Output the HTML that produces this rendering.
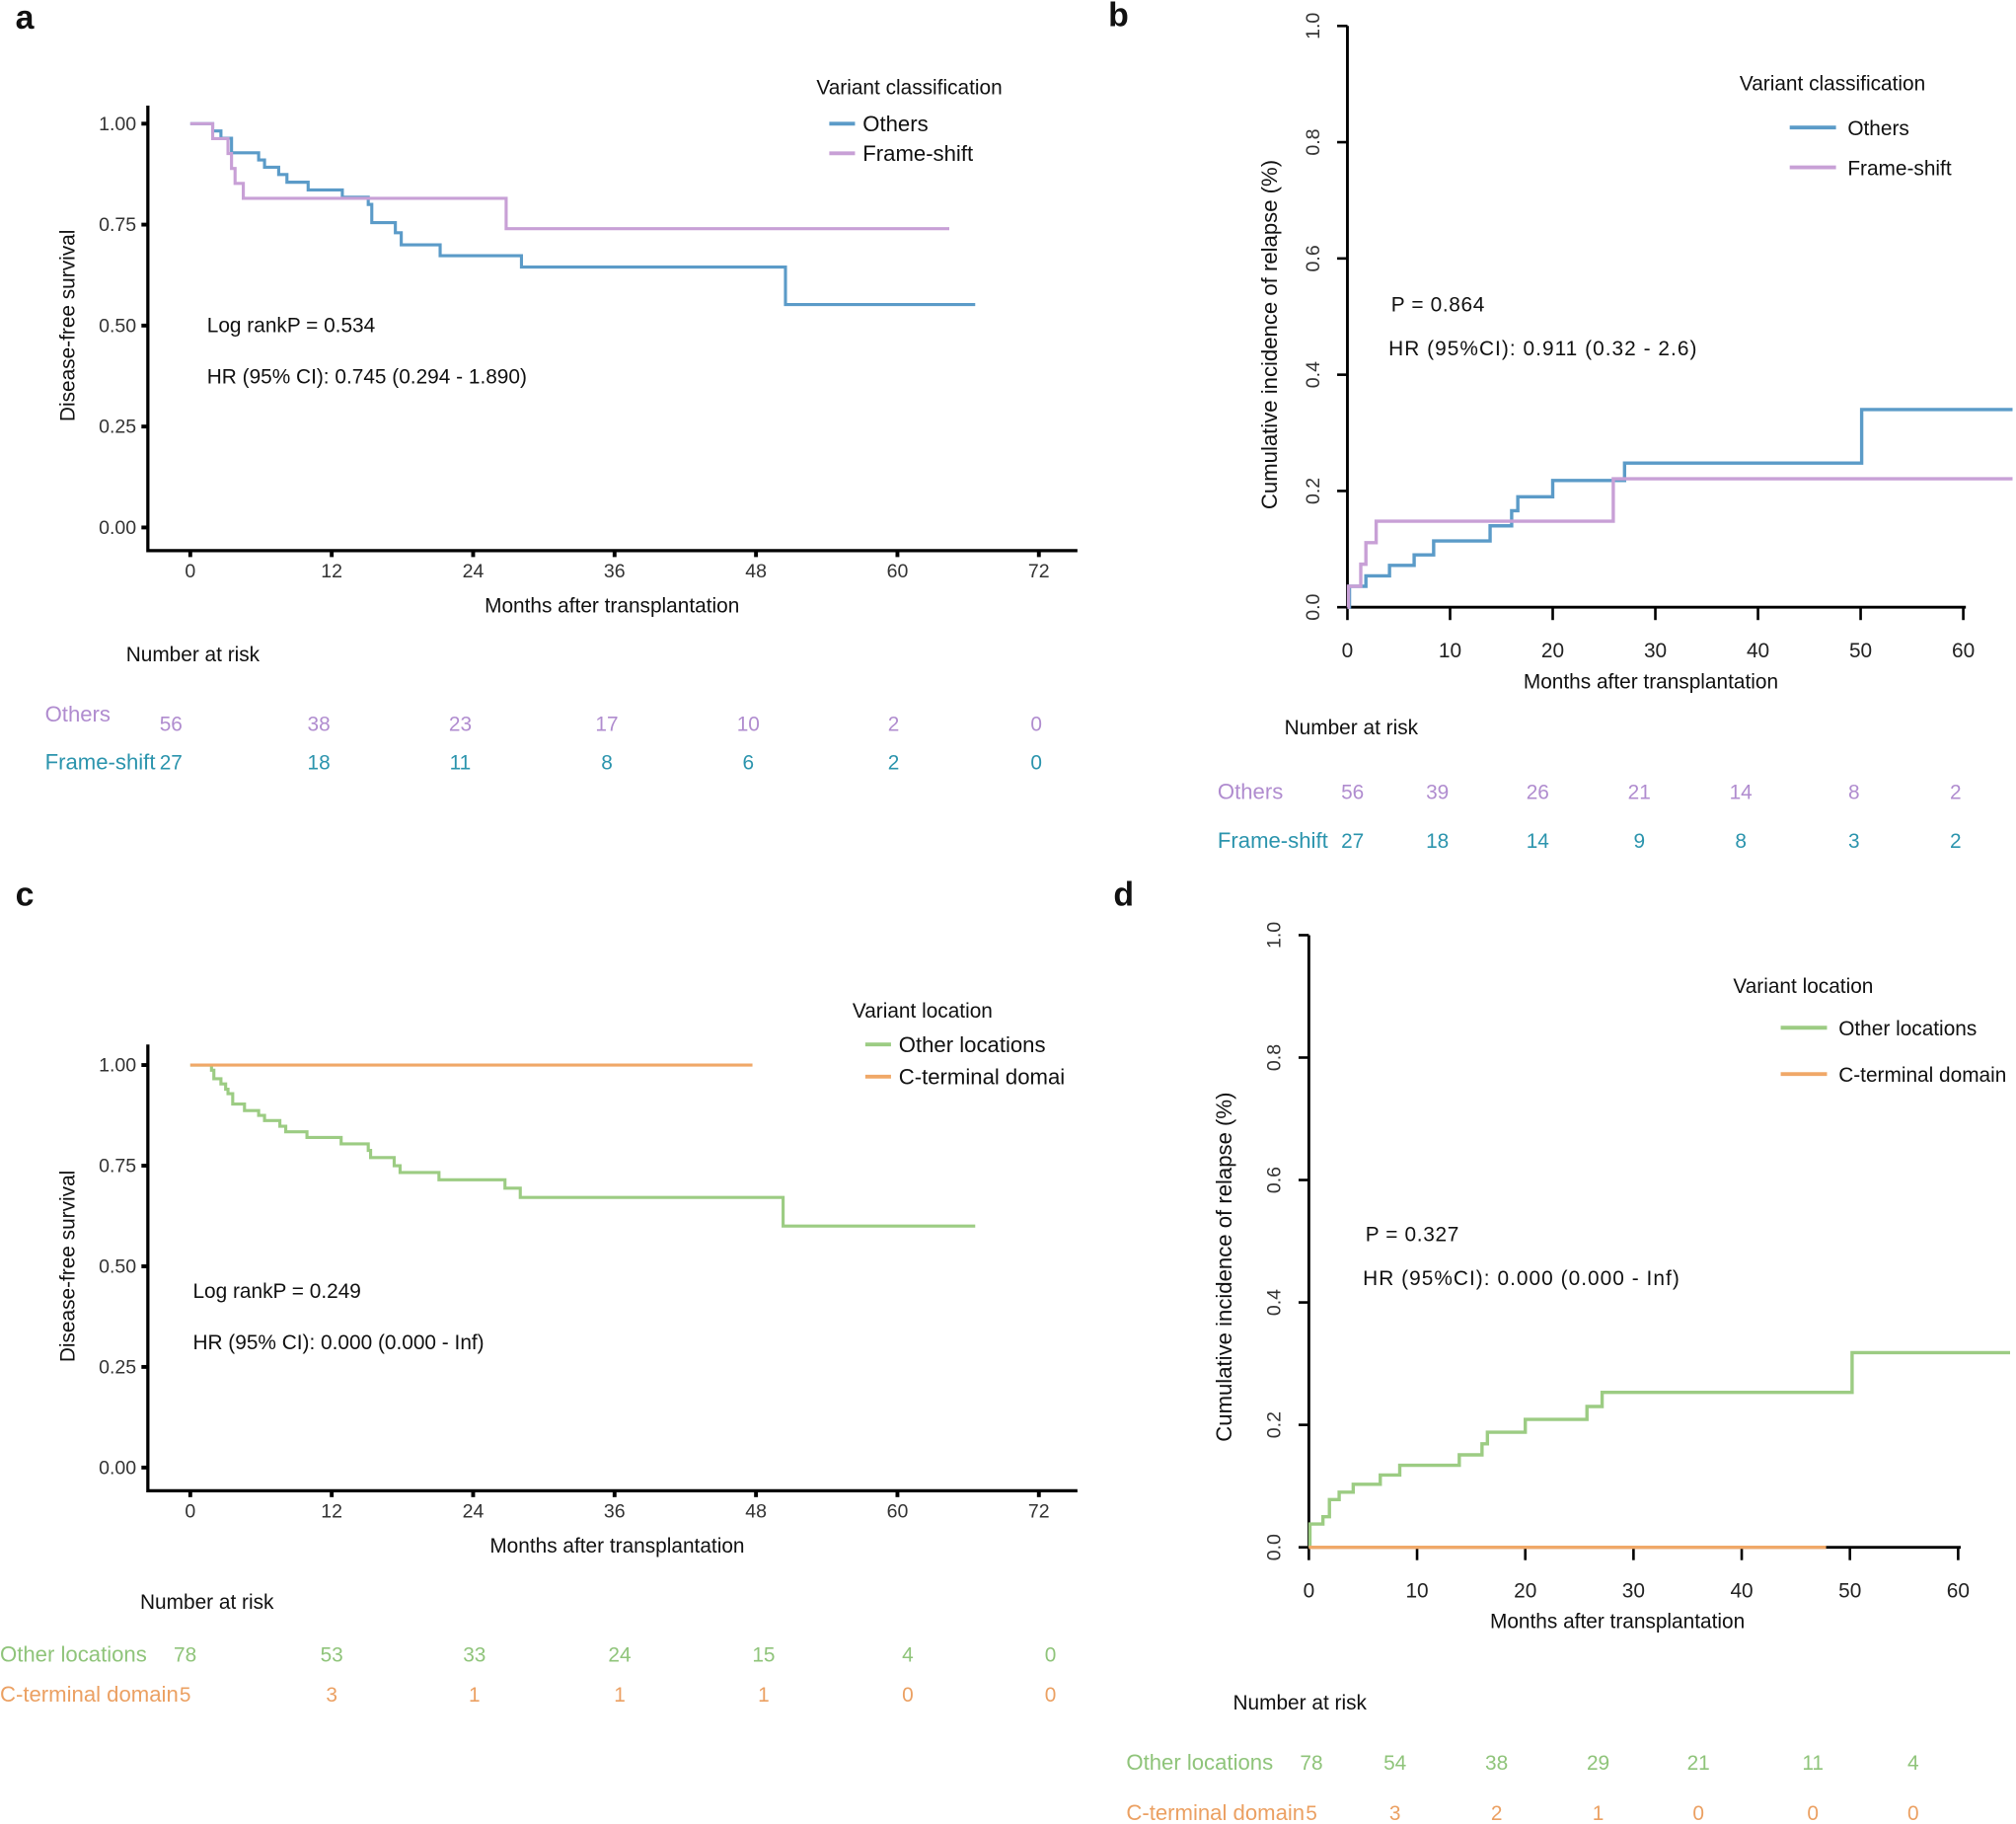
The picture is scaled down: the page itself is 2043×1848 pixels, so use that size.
<!DOCTYPE html>
<html><head><meta charset="utf-8"><style>
html,body{margin:0;padding:0;background:#fff}
svg{display:block}
text{font-family:"Liberation Sans",Arial,sans-serif}
</style></head><body>
<svg id="fig" width="2043" height="1848" viewBox="0 0 1568 1418" xmlns="http://www.w3.org/2000/svg"></svg>
<script>
// ---- data ----
const aOthersT=[0,1.9,2.6,3.5,5.8,6.3,7.5,8.2,10,12.9,15.1,15.4,17.4,17.9,21.2,28.1,50.5];
const aOthersS=[1,0.982,0.964,0.928,0.91,0.892,0.874,0.855,0.836,0.818,0.80,0.755,0.73,0.70,0.673,0.645,0.552];
const aOthersEnd=66.6;
const aFsT=[0,1.9,3.2,3.5,3.8,4.5,26.8];
const aFsS=[1,0.963,0.926,0.889,0.852,0.815,0.74];
const aFsEnd=64.4;
const bOthersT=[0,0.2,1.8,4.1,6.5,8.4,13.9,16,16.6,20,27,50.1];
const bOthersV=[0,0.036,0.054,0.072,0.09,0.114,0.14,0.166,0.19,0.218,0.248,0.34];
const bFsT=[0,0.1,1.3,1.8,2.8,25.9];
const bFsV=[0,0.036,0.074,0.111,0.148,0.221];
const bEnd=64.8;
const cOtherT=[0,1.8,2.0,2.6,3.0,3.2,3.6,4.6,5.8,6.3,7.6,8.1,9.9,12.8,15.1,15.3,17.3,17.8,21.1,26.7,28,50.3];
const cOtherS=[1,0.987,0.966,0.953,0.94,0.929,0.903,0.887,0.875,0.862,0.848,0.834,0.82,0.804,0.788,0.77,0.75,0.733,0.715,0.694,0.671,0.6];
const cOtherEnd=66.6;
const cCtT=[0];const cCtS=[1];const cCtEnd=47.7;
const dOtherT=[0,0.1,1.3,1.9,2.8,4.1,6.6,8.4,13.9,16,16.5,20,25.7,27.1,50.2];
const dOtherV=[0,0.038,0.05,0.078,0.09,0.103,0.118,0.134,0.151,0.169,0.188,0.209,0.23,0.253,0.318];
const dOtherEnd=64.8;
const dCtT=[0];const dCtV=[0];const dCtEnd=47.8;
const kmXTicks=[0,12,24,36,48,60,72];
const kmYTicks=[0,0.25,0.5,0.75,1];
const kmYLabels=["0.00","0.25","0.50","0.75","1.00"];
const ciXTicks=[0,10,20,30,40,50,60];
const ciYTicks=[0,0.2,0.4,0.6,0.8,1];
const ciYLabels=["0.0","0.2","0.4","0.6","0.8","1.0"];
const aRiskOthers=[56,38,23,17,10,2,0];
const aRiskFs=[27,18,11,8,6,2,0];
const bRiskOthers=[56,39,26,21,14,8,2];
const bRiskFs=[27,18,14,9,8,3,2];
const cRiskOther=[78,53,33,24,15,4,0];
const cRiskCt=[5,3,1,1,1,0,0];
const dRiskOther=[78,54,38,29,21,11,4];
const dRiskCt=[5,3,2,1,0,0,0];

const BLUE="#5b9bc8",PURPLE="#c8a0d6",GREEN="#9ccc83",ORANGE="#f0a868";
const RPURPLE="#b08ccf",RTEAL="#2b94ad",RGREEN="#8fc47a",RORANGE="#eba062";
const svg=document.getElementById('fig');
const NS="http://www.w3.org/2000/svg";
function mk(tag,attrs,parent){const e=document.createElementNS(NS,tag);for(const k in attrs)e.setAttribute(k,attrs[k]);(parent||svg).appendChild(e);return e;}
function txt(s,x,y,size,opt,parent){opt=opt||{};const e=mk('text',{x:x,y:y,'font-size':size,'text-anchor':opt.anchor||'start'},parent);e.style.fill=opt.fill||'#111';if(opt.weight)e.setAttribute('font-weight',opt.weight);if(opt.rot)e.setAttribute('transform','rotate(-90 '+x+' '+y+')');e.textContent=s;return e;}
function stepPath(T,V,end,sx,sy){let d='M'+sx(T[0])+' '+sy(V[0]);for(let i=1;i<T.length;i++){d+=' H'+sx(T[i])+' V'+sy(V[i]);}d+=' H'+sx(end);return d;}

// ---------- Panel a & c (KM) ----------
function kmPanel(p){
  const g=mk('g',{});
  
  
  const sx=t=>148+t*(808-148)/72, sy=v=>p.y0+(p.y1-p.y0)*v;
  const lt=txt(p.letter,12,p.letterY,26,{weight:'bold'},g);
  
  const ax=mk('path',{d:'M115 '+p.top+' V'+p.axY+' H838',stroke:'#000','stroke-width':2.5,fill:'none'},g);
  
  kmYTicks.forEach((v,i)=>{mk('line',{x1:110,x2:115,y1:sy(v),y2:sy(v),stroke:'#000','stroke-width':3},g);
    const t=txt(kmYLabels[i],106,sy(v)+5,15,{anchor:'end',fill:'#333'},g);});
  kmXTicks.forEach(v=>{mk('line',{x1:sx(v),x2:sx(v),y1:p.axY,y2:p.axY+5,stroke:'#000','stroke-width':3},g);
    const t=txt(String(v),sx(v),p.axY+21,15,{anchor:'middle',fill:'#333'},g);});
  const xt=txt('Months after transplantation',p.xtX,p.axY+48,16,{anchor:'middle'},g);
  const yt=txt('Disease-free survival',58,(p.y0+p.y1)/2,16,{anchor:'middle',rot:1},g);
  p.series.forEach(s=>{const e=mk('path',{d:stepPath(s.T,s.V,s.end,sx,sy),stroke:s.c,'stroke-width':2.4,fill:'none'},g);
    });
  const lg=mk('g',{},g);
  txt(p.legTitle,p.legX,p.legY,16,{},lg);
  p.series.forEach((s,i)=>{const yy=p.legY+p.legOff+i*p.legGap;mk('line',{x1:p.legX+10,x2:p.legX+30,y1:yy,y2:yy,stroke:s.c,'stroke-width':3},lg);
    const t=txt(s.label,p.legX+36,yy+6,17,{},lg);});
  const a1=txt(p.ann1,p.annX,p.annY,16,{},g);
  const a2=txt(p.ann2,p.annX,p.annY+40,16,{},g);
  const rk=mk('g',{},g);
  txt('Number at risk',p.nrX,p.nrY,16,{},rk);
  p.rows.forEach(r=>{txt(r.label,r.lx,r.ly,17,{fill:r.c},rk);
    r.vals.forEach((v,i)=>{const t=txt(String(v),p.riskX[i],r.y,16,{anchor:'middle',fill:r.c},rk);});});
}
kmPanel({name:'panel-a',letter:'a',letterY:22,top:82,axY:428,y0:410,y1:96,xtX:476,
  series:[{id:'curve-others',label:'Others',T:aOthersT,V:aOthersS,end:aOthersEnd,c:BLUE},{id:'curve-frame-shift',label:'Frame-shift',T:aFsT,V:aFsS,end:aFsEnd,c:PURPLE}],
  legTitle:'Variant classification',legX:635,legY:73,legOff:23,legGap:23,ann1:'Log rankP = 0.534',ann2:'HR (95% CI): 0.745 (0.294 - 1.890)',annX:161,annY:258,
  nrX:98,nrY:514,riskX:[133,248,358,472,582,695,806],
  rows:[{label:'Others',lx:35,ly:561,y:568,vals:aRiskOthers,c:RPURPLE},{label:'Frame-shift',lx:35,ly:598,y:598,vals:aRiskFs,c:RTEAL}]});
kmPanel({name:'panel-c',letter:'c',letterY:704,top:812,axY:1159,y0:1141,y1:828,xtX:480,
  series:[{id:'curve-other-locations',label:'Other locations',T:cOtherT,V:cOtherS,end:cOtherEnd,c:GREEN},{id:'curve-c-terminal',label:'C-terminal domai',T:cCtT,V:cCtS,end:cCtEnd,c:ORANGE}],
  legTitle:'Variant location',legX:663,legY:791,legOff:21,legGap:25,ann1:'Log rankP = 0.249',ann2:'HR (95% CI): 0.000 (0.000 - Inf)',annX:150,annY:1009,
  nrX:109,nrY:1251,riskX:[144,258,369,482,594,706,817],
  rows:[{label:'Other locations',lx:0,ly:1292,y:1292,vals:cRiskOther,c:RGREEN},{label:'C-terminal domain',lx:0,ly:1323,y:1323,vals:cRiskCt,c:RORANGE}]});

// ---------- Panel b & d (CI) ----------
function ciPanel(p){
  const g=mk('g',{});
  
  
  const sx=t=>p.x0+t*(p.x60-p.x0)/60, sy=v=>p.yb+(p.yt-p.yb)*v;
  const lt=txt(p.letter,p.letterX,p.letterY,26,{weight:'bold'},g);
  
  const ax=mk('path',{d:'M'+p.x0+' '+p.yt+' V'+p.yb+' H'+(p.x60+2),stroke:'#000','stroke-width':2.2,fill:'none'},g);
  
  ciYTicks.forEach((v,i)=>{mk('line',{x1:p.x0-8,x2:p.x0,y1:sy(v),y2:sy(v),stroke:'#000','stroke-width':2},g);
    const t=txt(ciYLabels[i],p.x0-22,sy(v),15,{anchor:'middle',rot:1,fill:'#333'},g);});
  ciXTicks.forEach(v=>{mk('line',{x1:sx(v),x2:sx(v),y1:p.yb,y2:p.yb+10,stroke:'#000','stroke-width':2},g);
    const t=txt(String(v),sx(v),p.yb+39,16,{anchor:'middle',fill:'#222'},g);});
  const xt=txt('Months after transplantation',p.xtX,p.yb+63,16,{anchor:'middle'},g);
  const yt=txt('Cumulative incidence of relapse (%)',p.ylX,p.ylY,17,{anchor:'middle',rot:1},g);
  p.series.forEach(s=>{const e=mk('path',{d:stepPath(s.T,s.V,s.end,sx,sy),stroke:s.c,'stroke-width':2.6,fill:'none'},g);
    });
  const lg=mk('g',{},g);
  txt(p.legTitle,p.legX,p.legY,16,{},lg);
  p.series.forEach((s,i)=>{const yy=p.legY+p.legOff+i*p.legGap;mk('line',{x1:p.lineX,x2:p.lineX+36,y1:yy,y2:yy,stroke:s.c,'stroke-width':3},lg);
    const t=txt(s.label,p.lineX+45,yy+6,16,{},lg);});
  const a1=txt(p.ann1,p.annX+2,p.annY,16,{},g);
  const a2=txt(p.ann2,p.annX,p.annY+34,16,{},g);
  a1.setAttribute('letter-spacing','0.5');a2.setAttribute('letter-spacing','0.8');
  const rk=mk('g',{},g);
  txt('Number at risk',p.nrX,p.nrY,16,{},rk);
  p.rows.forEach(r=>{txt(r.label,r.lx,r.y,17,{fill:r.c},rk);
    r.vals.forEach((v,i)=>{const t=txt(String(v),p.riskX[i],r.y,16,{anchor:'middle',fill:r.c},rk);});});
}
ciPanel({name:'panel-b',letter:'b',letterX:862,letterY:20,x0:1048,x60:1527,yb:472,yt:20,xtX:1284,ylX:993,ylY:260,
  series:[{id:'curve-others',label:'Others',T:bOthersT,V:bOthersV,end:bEnd,c:BLUE},{id:'curve-frame-shift',label:'Frame-shift',T:bFsT,V:bFsV,end:bEnd,c:PURPLE}],
  legTitle:'Variant classification',legX:1353,legY:70,legOff:29,legGap:31,lineX:1392,ann1:'P = 0.864',ann2:'HR (95%CI): 0.911 (0.32 - 2.6)',annX:1080,annY:242,
  nrX:999,nrY:571,riskX:[1052,1118,1196,1275,1354,1442,1521],
  rows:[{label:'Others',lx:947,y:621,vals:bRiskOthers,c:RPURPLE},{label:'Frame-shift',lx:947,y:659,vals:bRiskFs,c:RTEAL}]});
ciPanel({name:'panel-d',letter:'d',letterX:866,letterY:704,x0:1018,x60:1523,yb:1203,yt:727,xtX:1258,ylX:958,ylY:985,
  series:[{id:'curve-other-locations',label:'Other locations',T:dOtherT,V:dOtherV,end:dOtherEnd,c:GREEN},{id:'curve-c-terminal',label:'C-terminal domain',T:dCtT,V:dCtV,end:dCtEnd,c:ORANGE}],
  legTitle:'Variant location',legX:1348,legY:772,legOff:27,legGap:36,lineX:1385,ann1:'P = 0.327',ann2:'HR (95%CI): 0.000 (0.000 - Inf)',annX:1060,annY:965,
  nrX:959,nrY:1329,riskX:[1020,1085,1164,1243,1321,1410,1488],
  rows:[{label:'Other locations',lx:876,y:1376,vals:dRiskOther,c:RGREEN},{label:'C-terminal domain',lx:876,y:1415,vals:dRiskCt,c:RORANGE}]});
</script>
</body></html>
